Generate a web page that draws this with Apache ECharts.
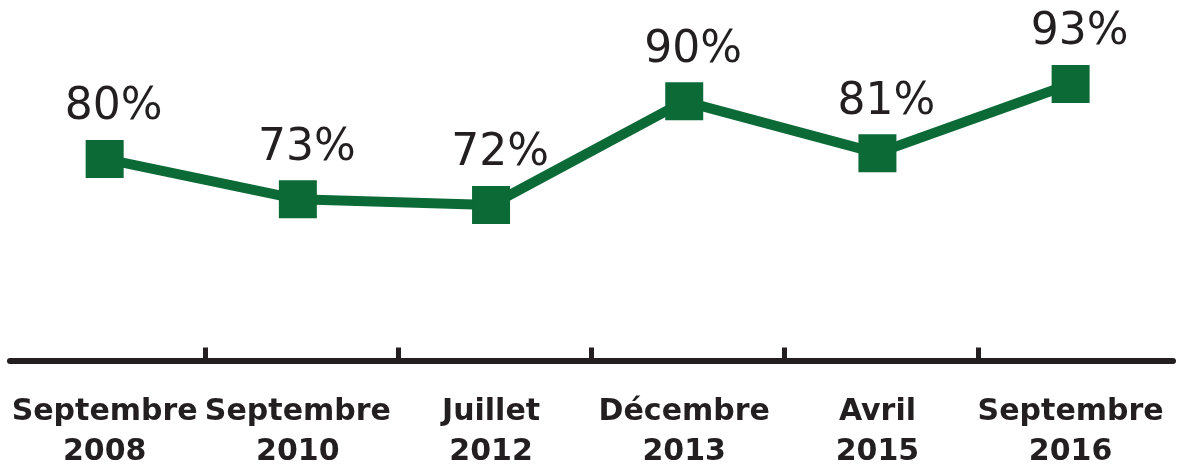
<!DOCTYPE html>
<html>
<head>
<meta charset="utf-8">
<script src="https://cdn.jsdelivr.net/npm/echarts@6/dist/echarts.min.js"></script>
<style>
  html, body { margin: 0; padding: 0; background: #fff; }
  #chart { width: 1181px; height: 468px; }
</style>
</head>
<body>
<div id="chart"></div>
<script>
  // survey dates and scores
  const categories = ['Septembre\n2008', 'Septembre\n2010', 'Juillet\n2012', 'Décembre\n2013', 'Avril\n2015', 'Septembre\n2016'];
  const values = [80, 73, 72, 90, 81, 93];
  const tickPositions = [0.52, 1.52, 2.52, 3.52, 4.52]; // separators between the dates

  const green = '#0c6a37';
  const ink = '#231f20';

  const myChart = echarts.init(document.getElementById('chart'));
  const option = {
    animation: false,
    grid: { left: 10, right: 8, top: 43.7, bottom: 107.5, outerBoundsMode: 'none' },
    xAxis: {
      type: 'value',
      min: -0.49,
      max: 5.53,
      splitLine: { show: false },
      axisLine: { onZero: false, lineStyle: { color: ink, width: 6 } },
      axisTick: {
        show: true,
        inside: true,
        length: 13,
        customValues: tickPositions,
        lineStyle: { color: ink, width: 5 }
      },
      axisLabel: {
        customValues: categories.map((c, i) => i),
        formatter: (v) => categories[Math.round(v)],
        color: ink,
        fontFamily: 'DejaVu Sans',
        fontWeight: 'bold',
        fontSize: 30,
        lineHeight: 40,
        margin: 32
      }
    },
    yAxis: {
      type: 'value',
      min: 45,
      max: 100,
      show: false
    },
    series: [
      {
        type: 'line',
        data: values.map((v, i) => [i, v]),
        symbol: 'rect',
        symbolSize: 38,
        itemStyle: { color: green },
        lineStyle: { color: green, width: 10 },
        label: {
          show: true,
          position: 'top',
          distance: 10,
          offset: [9, 0],
          formatter: (p) => p.value[1] + '%',
          color: ink,
          fontFamily: 'DejaVu Sans',
          fontSize: 44
        }
      }
    ]
  };
  myChart.setOption(option);
</script>
</body>
</html>
